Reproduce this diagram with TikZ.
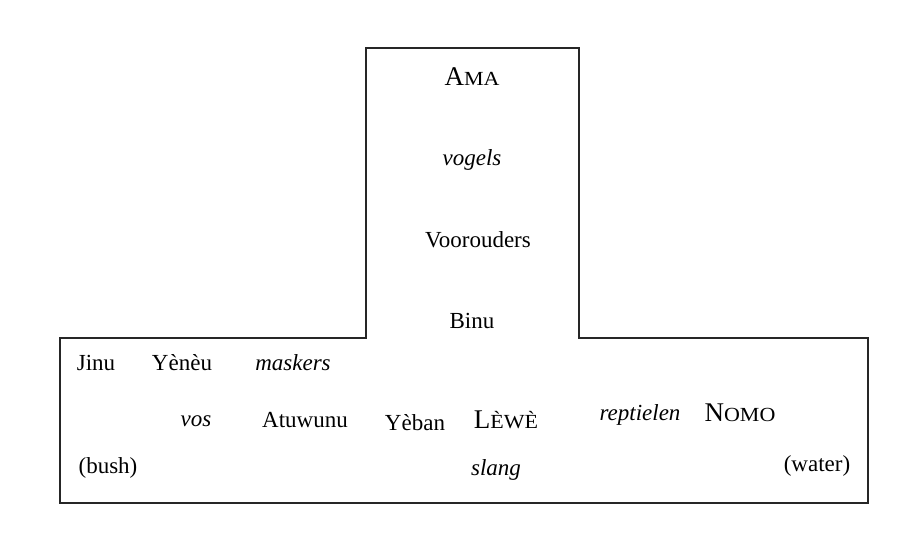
\documentclass[tikz,border=0pt]{standalone}
\usepackage{fontspec}
\setmainfont{Liberation Serif}
\newcommand\fakesc[2]{{\fontsize{13.5}{14}\selectfont #1}\scalebox{1.1}[1]{\fontsize{10}{11}\selectfont #2}}
\begin{document}
\begin{tikzpicture}[x=0.5pt,y=-0.5pt,
  lbl/.style={inner sep=0pt,anchor=center,font=\fontsize{11.5}{13}\selectfont},
  ilbl/.style={lbl,font=\fontsize{11.5}{13}\selectfont\itshape},
  frame/.style={draw=black!85,line width=0.8pt,line join=miter}]
\useasboundingbox (0,0) rectangle (908,549);
\coordinate (t1) at (366,48);
\coordinate (t2) at (579,48);
\coordinate (j2) at (579,338);
\coordinate (r1) at (868,338);
\coordinate (r2) at (868,503);
\coordinate (l2) at (60,503);
\coordinate (l1) at (60,338);
\coordinate (j1) at (366,338);
\draw[frame] (t1) -- (t2) -- (j2) -- (r1) -- (r2) -- (l2) -- (l1) -- (j1) -- cycle;
\node[lbl] (ama) at (472,77) {\fakesc{A}{MA}};
\node[ilbl] (vogels) at (472,160) {vogels};
\node[lbl] (voor) at (478,240) {Voorouders};
\node[lbl] (binu) at (472,321) {Binu};
\node[lbl] (jinu) at (96,363) {Jinu};
\node[lbl] (yeneu) at (182,363) {Yènèu};
\node[ilbl] (maskers) at (293,363) {maskers};
\node[ilbl] (vos) at (196,421) {vos};
\node[lbl] (atuwunu) at (305,420) {Atuwunu};
\node[lbl] (yeban) at (415,423) {Yèban};
\node[lbl] (lewe) at (506,420) {\fakesc{L}{ÈWÈ}};
\node[ilbl] (rept) at (640,415) {reptielen};
\node[lbl] (nomo) at (740,413) {\fakesc{N}{OMO}};
\node[lbl] (bush) at (108,468) {(bush)};
\node[ilbl] (slang) at (496,470) {slang};
\node[lbl] (water) at (817,466) {(water)};
\end{tikzpicture}
\end{document}
